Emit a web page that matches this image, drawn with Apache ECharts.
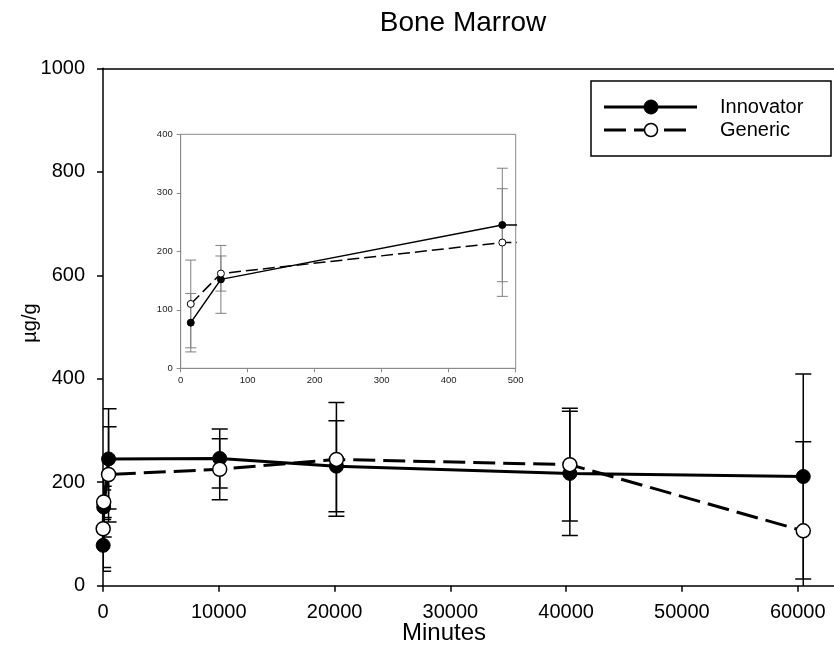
<!DOCTYPE html>
<html>
<head>
<meta charset="utf-8">
<title>Bone Marrow</title>
<script src="https://cdn.jsdelivr.net/npm/echarts@6/dist/echarts.min.js"></script>
<style>
  html, body { margin: 0; padding: 0; background: #fff; }
  #chart { width: 834px; height: 657px; }
</style>
</head>
<body>
<div id="chart"></div>
<script>
// Sampling times (minutes after dosing)
const minutes = [15, 60, 480, 10080, 20160, 40320, 60480];

// Bone marrow concentration, µg/g (mean and SD)
const innovatorMean = [78, 152, 245, 246, 231, 217, 211];
const innovatorSD   = [50, 58, 97, 57, 88, 120, 198];
const genericMean   = [110, 162, 215, 225, 244, 234, 106];
const genericSD     = [75, 30, 92, 59, 110, 109, 172];

// Axis ticks
const mainXTicks = [0, 10000, 20000, 30000, 40000, 50000, 60000];
const mainYTicks = [0, 200, 400, 600, 800, 1000];
const insetXTicks = [0, 100, 200, 300, 400, 500];
const insetYTicks = [0, 100, 200, 300, 400];

const FONT = '"Liberation Sans", Arial, Helvetica, sans-serif';

const points = (xs, ys) => xs.map((x, i) => [x, ys[i]]);
const errRows = (xs, ys, sd) => xs.map((x, i) => [x, ys[i], sd[i]]);

// Vertical error bar with horizontal caps
function errorBars(capHalf, color, width) {
  return function (params, api) {
    const x = api.value(0), m = api.value(1), s = api.value(2);
    const hi = api.coord([x, m + s]);
    const lo = api.coord([x, m - s]);
    const style = { stroke: color, lineWidth: width, fill: null };
    return {
      type: 'group',
      children: [
        { type: 'line', shape: { x1: hi[0], y1: hi[1], x2: lo[0], y2: lo[1] }, style },
        { type: 'line', shape: { x1: hi[0] - capHalf, y1: hi[1], x2: hi[0] + capHalf, y2: hi[1] }, style },
        { type: 'line', shape: { x1: lo[0] - capHalf, y1: lo[1], x2: lo[0] + capHalf, y2: lo[1] }, style }
      ]
    };
  };
}

const chart = echarts.init(document.getElementById('chart'), null, { renderer: 'canvas' });

const mainAxisLine = { show: true, lineStyle: { color: '#000', width: 1.5 } };
const mainTick = { show: true, inside: false, length: 6, lineStyle: { color: '#000', width: 1.5 } };
const insetAxisLine = { show: true, lineStyle: { color: '#8a8a8a', width: 1 } };
const insetTick = { show: true, inside: false, length: 4, lineStyle: { color: '#8a8a8a', width: 1 } };

const option = {
  animation: false,
  backgroundColor: '#fff',
  textStyle: { fontFamily: FONT },
  grid: [
    { left: 103, top: 68.3, width: 730.6, height: 517.4, show: false },
    {
      left: 180.7, top: 134.3, width: 335, height: 234,
      show: true, borderColor: '#8a8a8a', borderWidth: 1, backgroundColor: 'transparent'
    }
  ],
  xAxis: [
    {
      type: 'value', gridIndex: 0, min: 0, max: 63100, interval: 10000,
      axisLine: mainAxisLine, axisTick: mainTick, splitLine: { show: false },
      axisLabel: {
        color: '#000', fontSize: 20, fontFamily: FONT, margin: 17,
        showMaxLabel: false,
        formatter: v => (mainXTicks.indexOf(v) >= 0 ? String(v) : '')
      }
    },
    {
      type: 'value', gridIndex: 1, min: 0, max: 500, interval: 100,
      axisLine: insetAxisLine, axisTick: insetTick, splitLine: { show: false },
      axisLabel: {
        color: '#222', fontSize: 9.5, fontFamily: FONT, margin: 7,
        formatter: v => (insetXTicks.indexOf(v) >= 0 ? String(v) : '')
      }
    },
    // top frame line of the main panel
    {
      type: 'value', gridIndex: 0, position: 'top', min: 0, max: 63100,
      axisLine: mainAxisLine, axisTick: { show: false }, axisLabel: { show: false },
      splitLine: { show: false }
    }
  ],
  yAxis: [
    {
      type: 'value', gridIndex: 0, min: 0, max: 1000, interval: 200,
      axisLine: mainAxisLine, axisTick: mainTick, splitLine: { show: false },
      axisLabel: {
        color: '#000', fontSize: 20, fontFamily: FONT, margin: 18,
        formatter: v => (mainYTicks.indexOf(v) >= 0 ? String(v) : '')
      }
    },
    {
      type: 'value', gridIndex: 1, min: 0, max: 400, interval: 100,
      axisLine: insetAxisLine, axisTick: insetTick, splitLine: { show: false },
      axisLabel: {
        color: '#222', fontSize: 9.5, fontFamily: FONT, margin: 8,
        formatter: v => (insetYTicks.indexOf(v) >= 0 ? String(v) : '')
      }
    }
  ],
  series: [
    // ---- main panel ----
    {
      name: 'Innovator SD', type: 'custom', xAxisIndex: 0, yAxisIndex: 0, clip: true, z: 2,
      renderItem: errorBars(8, '#000', 1.5),
      encode: { x: 0, y: 1 },
      data: errRows(minutes, innovatorMean, innovatorSD)
    },
    {
      name: 'Generic SD', type: 'custom', xAxisIndex: 0, yAxisIndex: 0, clip: true, z: 2,
      renderItem: errorBars(8, '#000', 1.5),
      encode: { x: 0, y: 1 },
      data: errRows(minutes, genericMean, genericSD)
    },
    {
      name: 'Innovator', type: 'line', xAxisIndex: 0, yAxisIndex: 0, z: 3,
      data: points(minutes, innovatorMean),
      symbol: 'circle', symbolSize: 14,
      lineStyle: { color: '#000', width: 3 },
      itemStyle: { color: '#000', borderColor: '#000', borderWidth: 1 }
    },
    {
      name: 'Generic', type: 'line', xAxisIndex: 0, yAxisIndex: 0, z: 4,
      data: points(minutes, genericMean),
      symbol: 'circle', symbolSize: 14,
      lineStyle: { color: '#000', width: 3, type: [22, 8] },
      itemStyle: { color: '#fff', borderColor: '#000', borderWidth: 1.5 }
    },
    // ---- inset: first 500 minutes ----
    {
      name: 'Innovator SD (0-500)', type: 'custom', xAxisIndex: 1, yAxisIndex: 1, clip: true, z: 2,
      renderItem: errorBars(5.5, '#808080', 1),
      encode: { x: 0, y: 1 },
      data: errRows(minutes, innovatorMean, innovatorSD)
    },
    {
      name: 'Generic SD (0-500)', type: 'custom', xAxisIndex: 1, yAxisIndex: 1, clip: true, z: 2,
      renderItem: errorBars(5.5, '#808080', 1),
      encode: { x: 0, y: 1 },
      data: errRows(minutes, genericMean, genericSD)
    },
    {
      name: 'Innovator (0-500)', type: 'line', xAxisIndex: 1, yAxisIndex: 1, z: 3, clip: true,
      data: points(minutes, innovatorMean),
      symbol: 'circle', symbolSize: 7,
      lineStyle: { color: '#000', width: 1.5 },
      itemStyle: { color: '#000', borderColor: '#000', borderWidth: 1 }
    },
    {
      name: 'Generic (0-500)', type: 'line', xAxisIndex: 1, yAxisIndex: 1, z: 4, clip: true,
      data: points(minutes, genericMean),
      symbol: 'circle', symbolSize: 7,
      lineStyle: { color: '#000', width: 1.5, type: [12, 5] },
      itemStyle: { color: '#fff', borderColor: '#000', borderWidth: 1 }
    }
  ],
  graphic: [
    // title
    {
      type: 'text', x: 463, y: 23, z: 10,
      style: { text: 'Bone Marrow', fill: '#000', font: '28px ' + FONT, textAlign: 'center', textVerticalAlign: 'middle' }
    },
    // axis names
    {
      type: 'text', x: 444, y: 633, z: 10,
      style: { text: 'Minutes', fill: '#000', font: '24px ' + FONT, textAlign: 'center', textVerticalAlign: 'middle' }
    },
    {
      type: 'text', x: 30, y: 323, rotation: Math.PI / 2, z: 10,
      style: { text: 'µg/g', fill: '#000', font: '20px ' + FONT, textAlign: 'center', textVerticalAlign: 'middle' }
    },
    // legend box
    {
      type: 'group', z: 20,
      children: [
        { type: 'rect', shape: { x: 591, y: 81, width: 240, height: 75 },
          style: { fill: '#fff', stroke: '#000', lineWidth: 1.5 } },
        { type: 'line', shape: { x1: 604, y1: 107, x2: 697, y2: 107 },
          style: { stroke: '#000', lineWidth: 3 } },
        { type: 'circle', shape: { cx: 651, cy: 107, r: 7 },
          style: { fill: '#000', stroke: '#000', lineWidth: 1 } },
        { type: 'line', shape: { x1: 604, y1: 130, x2: 688, y2: 130 },
          style: { stroke: '#000', lineWidth: 3, lineDash: [22, 8] } },
        { type: 'circle', shape: { cx: 651, cy: 130, r: 6.5 },
          style: { fill: '#fff', stroke: '#000', lineWidth: 1.5 } },
        { type: 'text', x: 720, y: 107,
          style: { text: 'Innovator', fill: '#000', font: '20px ' + FONT, textVerticalAlign: 'middle' } },
        { type: 'text', x: 720, y: 130,
          style: { text: 'Generic', fill: '#000', font: '20px ' + FONT, textVerticalAlign: 'middle' } }
      ]
    }
  ]
};

chart.setOption(option);
</script>
</body>
</html>
